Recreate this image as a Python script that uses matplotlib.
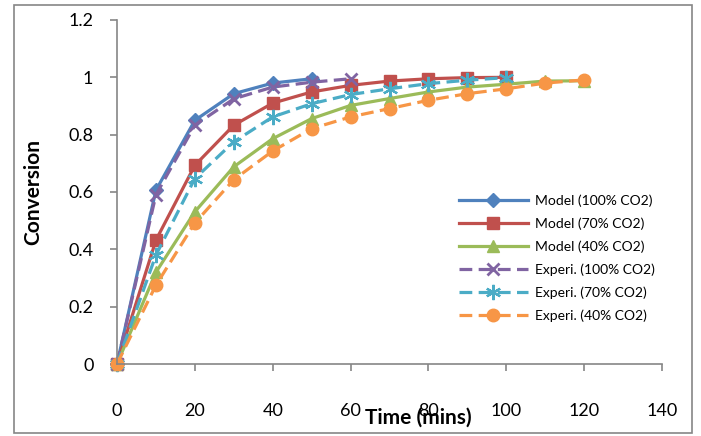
import numpy as np
import matplotlib.pyplot as plt
from matplotlib.patches import Rectangle

# tempo (min) e conversão
t_100 = [0, 10, 20, 30, 40, 50]
modelo_100 = [0, 0.606, 0.85, 0.943, 0.98, 0.995]
t_70 = [0, 10, 20, 30, 40, 50, 60, 70, 80, 90, 100]
modelo_70 = [0, 0.432, 0.693, 0.833, 0.91, 0.949, 0.972, 0.987, 0.995, 0.999, 1.0]
t_40 = [0, 10, 20, 30, 40, 50, 60, 70, 80, 90, 100, 110, 120]
modelo_40 = [0, 0.32, 0.531, 0.688, 0.786, 0.856, 0.902, 0.926, 0.949, 0.966, 0.976, 0.987, 0.988]

t_exp_100 = [0, 10, 20, 30, 40, 50, 60]
exp_100 = [0, 0.59, 0.833, 0.925, 0.966, 0.983, 0.995]
t_exp_70 = [0, 10, 20, 30, 40, 50, 60, 70, 80, 90, 100]
exp_70 = [0, 0.38, 0.647, 0.775, 0.862, 0.908, 0.94, 0.96, 0.978, 0.99, 0.999]
t_exp_40 = [0, 10, 20, 30, 40, 50, 60, 70, 80, 90, 100, 110, 120]
exp_40 = [0, 0.275, 0.492, 0.643, 0.743, 0.821, 0.862, 0.891, 0.92, 0.943, 0.96, 0.98, 0.991]

rotulos = ['Model (100% CO2)', 'Model (70% CO2)', 'Model (40% CO2)',
           'Experi. (100% CO2)', 'Experi. (70% CO2)', 'Experi. (40% CO2)']

plt.rcParams['font.family'] = ['Lato', 'DejaVu Sans']

fig = plt.figure(figsize=(7.01, 4.36), dpi=100)
ax = fig.add_axes([117 / 701, 1 - 364 / 436, (662 - 117) / 701, (364 - 20) / 436])

cinza = '#868686'
lw = 2.3
tracejado = (4.0, 2.0)

ax.plot(t_100, modelo_100, color='#4F81BD', lw=lw, marker='D', ms=7, label=rotulos[0], clip_on=False)
ax.plot(t_70, modelo_70, color='#C0504D', lw=lw, marker='s', ms=8, label=rotulos[1], clip_on=False)
ax.plot(t_40, modelo_40, color='#9BBB59', lw=lw, marker='^', ms=8, label=rotulos[2], clip_on=False)
ax.plot(t_exp_100, exp_100, color='#8064A2', lw=lw, dashes=tracejado, marker='x', ms=9, mew=2,
        label=rotulos[3], clip_on=False)
ax.plot(t_exp_70, exp_70, color='#4BACC6', lw=lw, dashes=tracejado, marker=(6, 2, 0), ms=11, mew=1.6,
        label=rotulos[4], clip_on=False)
ax.plot(t_exp_40, exp_40, color='#F79646', lw=lw, dashes=tracejado, marker='o', ms=9,
        label=rotulos[5], clip_on=False)

ax.set_xlim(0, 140)
ax.set_ylim(0, 1.2)
ax.set_xticks(np.arange(0, 141, 20))
ax.set_yticks([0, 0.2, 0.4, 0.6, 0.8, 1.0, 1.2])
ax.set_yticklabels(['0', '0.2', '0.4', '0.6', '0.8', '1', '1.2'])

for lado in ['top', 'right']:
    ax.spines[lado].set_visible(False)
for lado in ['left', 'bottom']:
    ax.spines[lado].set_color(cinza)
    ax.spines[lado].set_linewidth(1.2)
ax.tick_params(axis='both', colors=cinza, labelcolor='black', labelsize=13, length=5, width=1.2)
ax.tick_params(axis='x', pad=23)
ax.tick_params(axis='y', pad=12)

ax.set_ylabel('Conversion', fontsize=15, fontweight='bold')
ax.yaxis.set_label_coords(-(117 - 43) / 545, 0.5)
ax.set_xlabel('Time (mins)', fontsize=15, fontweight='bold')
ax.xaxis.set_label_coords((418 - 117) / 545, -(418 - 364) / 344)
ax.xaxis.label.set_verticalalignment('center')

ax.legend(loc='upper left', bbox_to_anchor=(446 / 701, 1 - 182 / 436), bbox_transform=fig.transFigure,
          frameon=False, fontsize=10, handlelength=5, labelspacing=0.75, handletextpad=0.5)

fig.patches.append(Rectangle((14 / 701, 3 / 436), (692 - 14) / 701, (431 - 3) / 436,
                             transform=fig.transFigure, fill=False, edgecolor=cinza, lw=1.2))

fig.savefig('out.png', dpi=100)
